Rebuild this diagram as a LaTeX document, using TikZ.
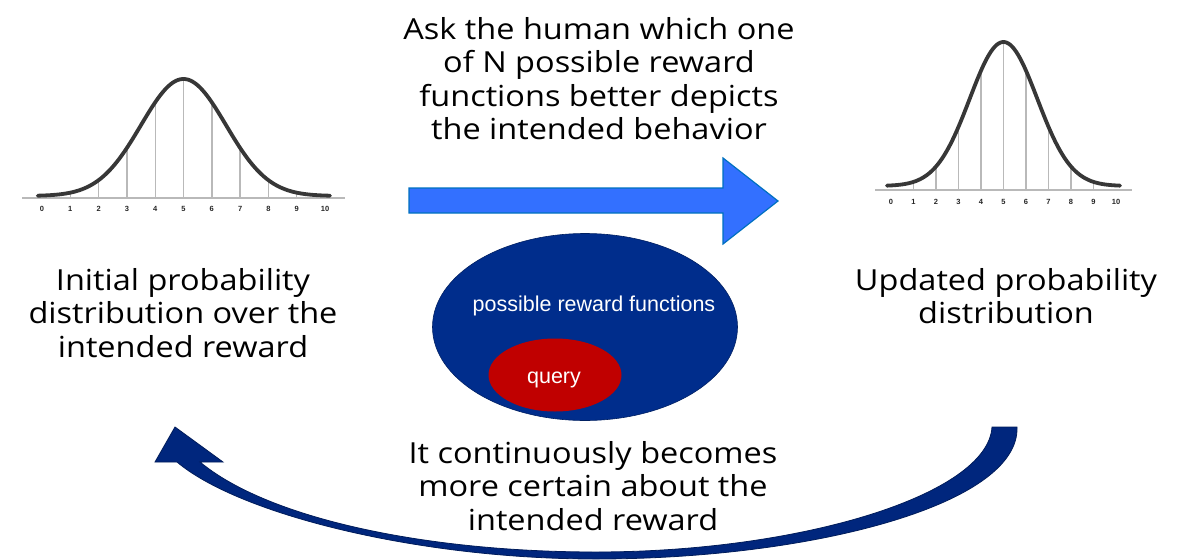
\documentclass[tikz,border=0pt]{standalone}
\usepackage{fontspec}
\setmainfont{Open Sans}[FakeStretch=1.12]
\setsansfont{Liberation Sans}
\usetikzlibrary{shapes.geometric}
\definecolor{arrowblue}{RGB}{51,112,255}
\definecolor{arrowedge}{RGB}{0,112,192}
\definecolor{setblue}{RGB}{0,45,140}
\definecolor{queryred}{RGB}{192,0,0}
\definecolor{navy}{RGB}{0,38,125}
\definecolor{navyedge}{RGB}{0,28,90}
\definecolor{curvegray}{RGB}{55,55,55}
\definecolor{tickgray}{RGB}{185,185,185}
\tikzset{
  lbl/.style={font=\fontsize{29}{33.5}\selectfont, align=center, inner sep=0pt, anchor=base},
  num/.style={font=\sffamily\bfseries\fontsize{7.5}{8}\selectfont, inner sep=0pt, text=black!85},
  tickline/.style={draw=tickgray, line width=1.4pt},
  axisline/.style={draw=tickgray, line width=1.5pt},
  bell/.style={draw=curvegray, line width=3.8pt, line cap=round},
  settext/.style={font=\sffamily\fontsize{21.5}{24}\selectfont, text=white, inner sep=0pt, anchor=base},
}
\begin{document}
\begin{tikzpicture}[x=1pt,y=-1pt]
\useasboundingbox (0,0) rectangle (1187,560);

% ---------- left bell curve ----------
\draw[axisline] (22,198) -- (345,198);
\foreach \i in {1,...,9}{
  \pgfmathsetmacro\px{42+28.3*\i}
  \pgfmathsetmacro\py{196-117*exp(-0.2222*(\i-5)*(\i-5))}
  \draw[tickline] (\px,198) -- (\px,\py);
}
\draw[bell] plot[domain=-0.15:10.18, samples=120, smooth] ({42+28.3*\x},{196-117*exp(-0.2222*(\x-5)*(\x-5))});
\foreach \i in {0,...,10}{
  \pgfmathsetmacro\px{42+28.3*\i}
  \node[num] (ln\i) at (\px,208.5) {\i};
}

% ---------- right bell curve ----------
\draw[axisline] (875,190) -- (1132,190);
\foreach \i in {1,...,9}{
  \pgfmathsetmacro\px{891+22.5*\i}
  \pgfmathsetmacro\py{186-144*exp(-0.2222*(\i-5)*(\i-5))}
  \draw[tickline] (\px,190) -- (\px,\py);
}
\draw[bell] plot[domain=-0.18:10.18, samples=120, smooth] ({891+22.5*\x},{186-144*exp(-0.2222*(\x-5)*(\x-5))});
\foreach \i in {0,...,10}{
  \pgfmathsetmacro\px{891+22.5*\i}
  \node[num] (rn\i) at (\px,202) {\i};
}

% ---------- texts (anchored at the baseline of the last line) ----------
\node[lbl] (ask) at (599,139.5) {Ask the human which one\\of N possible reward\\functions better depicts\\the intended behavior};
\node[lbl] (initial) at (183,357) {Initial probability\\distribution over the\\intended reward};
\node[lbl] (updated) at (1006,323.5) {Updated probability\\distribution};
\node[lbl] (certain) at (593,530) {It continuously becomes\\more certain about the\\intended reward};

% ---------- blue arrow ----------
\draw[fill=arrowblue, draw=arrowedge, line width=1.2pt, line join=miter]
  (409,188) -- (723,188) -- (723,158) -- (778,201) -- (723,244) -- (723,213) -- (409,213) -- cycle;

% ---------- sets ----------
\node[ellipse, fill=setblue, draw=setblue!70!black, line width=0.6pt, minimum width=305pt, minimum height=187pt, inner sep=0pt] (space) at (585,327) {};
\node[settext] (spacetext) at (594,311.5) {possible reward functions};
\node[ellipse, fill=queryred, minimum width=133pt, minimum height=73pt, inner sep=0pt] (query) at (555,375) {};
\node[settext] (querytext) at (554,383) {query};

% ---------- curved return arrow ----------
\draw[fill=navy, draw=navyedge, line width=0.8pt, line join=miter]
  (1017,427) .. controls (1020,505) and (810,559) .. (596,559)
  .. controls (420,559) and (240,515) .. (177,462)
  -- (155,462) -- (175,427) -- (223,462) -- (200,462)
  .. controls (270,520) and (430,552) .. (596,552)
  .. controls (800,552) and (988,495) .. (992,427) -- cycle;
\end{tikzpicture}
\end{document}
